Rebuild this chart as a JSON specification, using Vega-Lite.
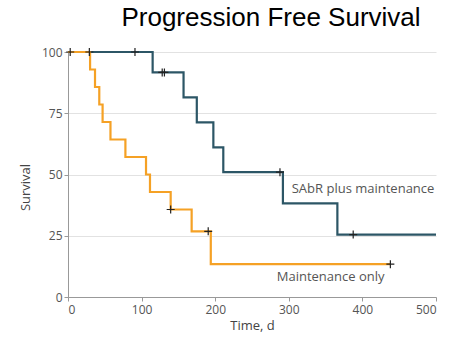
{
  "$schema": "https://vega.github.io/schema/vega-lite/v6.json",
  "width": 368,
  "height": 245,
  "autosize": "none",
  "padding": {"left": 68, "top": 52, "right": 14, "bottom": 42},
  "background": "white",
  "config": {"view": {"stroke": null}},
  "title": {
    "text": "Progression Free Survival",
    "font": "Liberation Sans",
    "fontSize": 26,
    "fontWeight": "normal",
    "color": "#000000",
    "anchor": "middle",
    "dx": 19,
    "offset": 15
  },
  "datasets": {
    "km": [
      {"series": "SAbR plus maintenance", "t": 0, "s": 100},
      {"series": "SAbR plus maintenance", "t": 115, "s": 91.67},
      {"series": "SAbR plus maintenance", "t": 157, "s": 81.48},
      {"series": "SAbR plus maintenance", "t": 175, "s": 71.3},
      {"series": "SAbR plus maintenance", "t": 197.5, "s": 61.11},
      {"series": "SAbR plus maintenance", "t": 211, "s": 50.93},
      {"series": "SAbR plus maintenance", "t": 292, "s": 38.19},
      {"series": "SAbR plus maintenance", "t": 366, "s": 25.46},
      {"series": "SAbR plus maintenance", "t": 500, "s": 25.46},
      {"series": "Maintenance only", "t": 0, "s": 100},
      {"series": "Maintenance only", "t": 30, "s": 92.86},
      {"series": "Maintenance only", "t": 36.7, "s": 85.71},
      {"series": "Maintenance only", "t": 42.5, "s": 78.57},
      {"series": "Maintenance only", "t": 47, "s": 71.43},
      {"series": "Maintenance only", "t": 57.7, "s": 64.29},
      {"series": "Maintenance only", "t": 78, "s": 57.14},
      {"series": "Maintenance only", "t": 106, "s": 50},
      {"series": "Maintenance only", "t": 111.4, "s": 42.86},
      {"series": "Maintenance only", "t": 139.5, "s": 35.71},
      {"series": "Maintenance only", "t": 168, "s": 26.79},
      {"series": "Maintenance only", "t": 194, "s": 13.39},
      {"series": "Maintenance only", "t": 438, "s": 13.39}
    ],
    "censor": [
      {"series": "SAbR plus maintenance", "t": 3, "s": 100},
      {"series": "SAbR plus maintenance", "t": 29, "s": 100},
      {"series": "SAbR plus maintenance", "t": 91, "s": 100},
      {"series": "SAbR plus maintenance", "t": 128, "s": 91.67},
      {"series": "SAbR plus maintenance", "t": 131, "s": 91.67},
      {"series": "SAbR plus maintenance", "t": 288, "s": 50.93},
      {"series": "SAbR plus maintenance", "t": 387.5, "s": 25.46},
      {"series": "Maintenance only", "t": 139.5, "s": 35.71},
      {"series": "Maintenance only", "t": 190.5, "s": 26.79},
      {"series": "Maintenance only", "t": 438, "s": 13.39}
    ],
    "labels": [
      {"label": "SAbR plus maintenance", "t": 304, "s": 42.4},
      {"label": "Maintenance only", "t": 283.6, "s": 6.5}
    ]
  },
  "layer": [
    {
      "data": {"name": "km"},
      "transform": [{"filter": "datum.series === 'SAbR plus maintenance'"}],
      "mark": {"type": "line", "interpolate": "step-after", "strokeWidth": 2.2, "color": "#2c5666"},
      "encoding": {
        "x": {
          "field": "t", "type": "quantitative",
          "scale": {"domain": [0, 500], "nice": false, "zero": false},
          "axis": {
            "values": [0, 100, 200, 300, 400, 500],
            "grid": false,
            "title": "Time, d",
            "domainColor": "#999999",
            "tickColor": "#999999",
            "tickSize": 4,
            "labelColor": "#555555",
            "labelFont": "Open Sans",
            "labelFontSize": 12,
            "labelPadding": 3,
            "titleFont": "Open Sans",
            "titleFontSize": 13,
            "titleFontWeight": "normal",
            "titleColor": "#444444",
            "titlePadding": 4
          }
        },
        "y": {
          "field": "s", "type": "quantitative",
          "scale": {"domain": [0, 100], "nice": false},
          "axis": {
            "values": [0, 25, 50, 75, 100],
            "grid": true,
            "gridColor": "#e2e2e2",
            "title": "Survival",
            "domainColor": "#999999",
            "tickColor": "#999999",
            "tickSize": 4,
            "labelColor": "#555555",
            "labelFont": "Open Sans",
            "labelFontSize": 12,
            "labelPadding": 2,
            "titleFont": "Open Sans",
            "titleFontSize": 13,
            "titleFontWeight": "normal",
            "titleColor": "#444444",
            "titleX": -36,
            "titleY": 135
          }
        }
      }
    },
    {
      "data": {"name": "km"},
      "transform": [{"filter": "datum.series === 'Maintenance only'"}],
      "mark": {"type": "line", "interpolate": "step-after", "strokeWidth": 2.2, "color": "#f5a125"},
      "encoding": {
        "x": {"field": "t", "type": "quantitative"},
        "y": {"field": "s", "type": "quantitative"}
      }
    },
    {
      "data": {"name": "censor"},
      "mark": {"type": "point", "shape": "M-1,0L1,0M0,-1L0,1", "filled": false, "color": "#222222", "strokeWidth": 1.2, "size": 64, "opacity": 1},
      "encoding": {
        "x": {"field": "t", "type": "quantitative"},
        "y": {"field": "s", "type": "quantitative"}
      }
    },
    {
      "data": {"name": "labels"},
      "mark": {"type": "text", "align": "left", "baseline": "alphabetic", "font": "Open Sans", "fontSize": 13, "color": "#555555"},
      "encoding": {
        "x": {"field": "t", "type": "quantitative"},
        "y": {"field": "s", "type": "quantitative"},
        "text": {"field": "label"}
      }
    }
  ]
}
